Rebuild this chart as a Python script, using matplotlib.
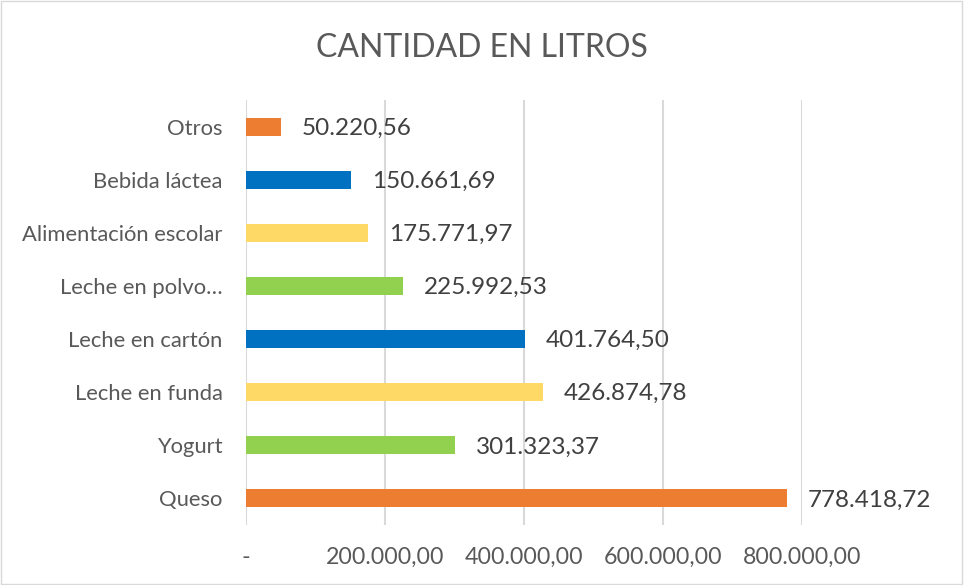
import matplotlib.pyplot as plt
from matplotlib.patches import Rectangle

plt.rcParams['font.family'] = ['Lato', 'DejaVu Sans']

categorias = ['Queso', 'Yogurt', 'Leche en funda', 'Leche en cartón',
              'Leche en polvo…', 'Alimentación escolar', 'Bebida láctea', 'Otros']
litros = [778418.72, 301323.37, 426874.78, 401764.50,
          225992.53, 175771.97, 150661.69, 50220.56]
etiquetas = ['778.418,72', '301.323,37', '426.874,78', '401.764,50',
             '225.992,53', '175.771,97', '150.661,69', '50.220,56']
colores = ['#ED7D31', '#92D050', '#FFD966', '#0070C0',
           '#92D050', '#FFD966', '#0070C0', '#ED7D31']
ticks_x = [0, 200000, 400000, 600000, 800000]
ticks_x_lbl = ['-', '200.000,00', '400.000,00', '600.000,00', '800.000,00']

gris = '#595959'

fig = plt.figure(figsize=(9.64, 5.85), dpi=100)
fig.patches.append(Rectangle((0.001, 0.002), 0.997, 0.996, transform=fig.transFigure,
                             fill=False, edgecolor='#D9D9D9', linewidth=1))
ax = fig.add_axes([0.2552, 0.1026, 0.5768, 0.7264])

y = list(range(len(categorias)))
ax.barh(y, litros, height=0.34, color=colores, zorder=3)
for yi, v, t in zip(y, litros, etiquetas):
    ax.text(v + 30000, yi - 0.03, t, va='center', ha='left', fontsize=17.5, color='#404040')

ax.set_xlim(0, 800000)
ax.set_ylim(-0.5, 7.5)
ax.set_yticks(y)
ax.set_yticklabels(categorias, fontsize=15.8, color=gris)
ax.set_xticks(ticks_x)
ax.set_xticklabels(ticks_x_lbl, fontsize=16.7, color=gris)
ax.tick_params(length=0)
ax.tick_params(axis='x', pad=16)
ax.tick_params(axis='y', pad=17)
ax.grid(axis='x', color='#D9D9D9', linewidth=1.5, zorder=0)
for s in ax.spines.values():
    s.set_visible(False)

fig.text(0.5, 0.918, 'CANTIDAD EN LITROS', ha='center', va='center',
         fontsize=23, color=gris)

fig.savefig('out.png', dpi=100)
